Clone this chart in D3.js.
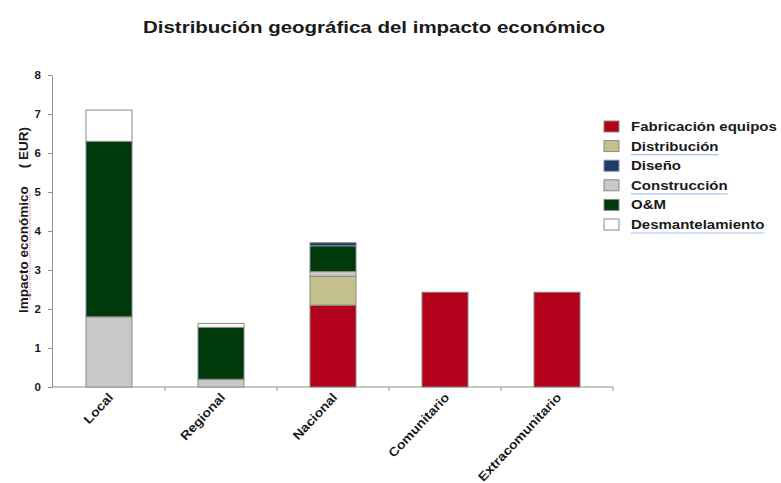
<!DOCTYPE html>
<html>
<head>
<meta charset="utf-8">
<script src="https://cdn.jsdelivr.net/npm/d3@7"></script>
<style>
  body { margin: 0; background: #fff; }
  text { font-family: "Liberation Sans", Arial, sans-serif; font-weight: bold; fill: #1a1a1a; }
</style>
</head>
<body>
<script>
const CATEGORIES = ["Local", "Regional", "Nacional", "Comunitario", "Extracomunitario"];
const SERIES = ["Fabricación equipos", "Distribución", "Diseño", "Construcción", "O&M", "Desmantelamiento"];
const FABRICACION = [0, 0, 2.1, 2.43, 2.43];
const DISTRIBUCION = [0, 0, 0.74, 0, 0];
const CONSTRUCCION = [1.8, 0.2, 0.12, 0, 0];
const OM = [4.5, 1.33, 0.66, 0, 0];
const DISENO = [0, 0, 0.08, 0, 0];
const DESMANTELAMIENTO = [0.8, 0.1, 0, 0, 0];
const Y_TICKS = [0, 1, 2, 3, 4, 5, 6, 7, 8];

// stacking order, bottom to top
const STACK_ORDER = ["Fabricación equipos", "Distribución", "Construcción", "O&M", "Diseño", "Desmantelamiento"];
const VALUES = {
  "Fabricación equipos": FABRICACION,
  "Distribución": DISTRIBUCION,
  "Diseño": DISENO,
  "Construcción": CONSTRUCCION,
  "O&M": OM,
  "Desmantelamiento": DESMANTELAMIENTO
};
const COLORS = {
  "Fabricación equipos": "#b3001b",
  "Distribución": "#c4c08c",
  "Diseño": "#1d3b6b",
  "Construcción": "#c8c8c8",
  "O&M": "#013a0a",
  "Desmantelamiento": "#ffffff"
};

const width = 781, height = 483;
const svg = d3.select("body").append("svg").attr("width", width).attr("height", height);

// the source picture is stretched horizontally
svg.append("text")
  .attr("x", 143).attr("y", 33)
  .attr("textLength", 462)
  .attr("lengthAdjust", "spacingAndGlyphs")
  .style("font-size", "17px")
  .text("Distribución geográfica del impacto económico");

const table = CATEGORIES.map((c, i) => {
  const row = { cat: c };
  SERIES.forEach(s => (row[s] = VALUES[s][i]));
  return row;
});
const stacked = d3.stack().keys(STACK_ORDER)(table);

const x = d3.scaleBand().domain(CATEGORIES).range([53, 613]);
const y = d3.scaleLinear().domain([0, 8]).range([387, 75]);
const barW = 46;

const axisColor = "#7f9f7f";

const yAxis = svg.append("g")
  .attr("transform", "translate(52,0)")
  .call(d3.axisLeft(y).tickValues(Y_TICKS).tickSize(4).tickSizeOuter(0).tickPadding(7));
yAxis.select(".domain").attr("stroke", axisColor);
yAxis.selectAll(".tick line").attr("stroke", axisColor);
yAxis.selectAll(".tick text").style("font-size", "11.5px").attr("fill", "#1a1a1a");

const xAxis = svg.append("g")
  .attr("transform", "translate(0,387)")
  .call(d3.axisBottom(x).tickSize(0).tickSizeOuter(0).tickFormat(""));
xAxis.select(".domain").attr("stroke", axisColor).attr("d", "M52,0H613");
xAxis.selectAll(".tick").remove();
// separators between categories
xAxis.selectAll("line.sep")
  .data(CATEGORIES)
  .enter().append("line")
  .attr("x1", (d, i) => x(d) + x.step())
  .attr("x2", (d, i) => x(d) + x.step())
  .attr("y1", 0).attr("y2", 4)
  .attr("stroke", axisColor);

svg.append("g").selectAll("g")
  .data(stacked)
  .enter().append("g")
  .attr("fill", d => COLORS[d.key])
  .selectAll("rect")
  .data(d => d.filter(p => p[1] - p[0] > 0))
  .enter().append("rect")
  .attr("x", d => x(d.data.cat) + x.bandwidth() / 2 - barW / 2)
  .attr("y", d => y(d[1]))
  .attr("width", barW)
  .attr("height", d => y(d[0]) - y(d[1]))
  .attr("stroke", "#8a8a8a")
  .attr("stroke-width", 1);

svg.append("g").selectAll("text")
  .data(CATEGORIES)
  .enter().append("text")
  .attr("transform", d => `translate(${x(d) + x.bandwidth() / 2 + 5},${398}) rotate(-47) scale(1.12,1)`)
  .attr("text-anchor", "end")
  .style("font-size", "12.5px")
  .text(d => d);

// y axis title
svg.append("text")
  .attr("transform", "translate(28,313) rotate(-90)")
  .style("font-size", "13.5px")
  .text("Impacto económico");
svg.append("text")
  .attr("transform", "translate(28,127) rotate(-90)")
  .attr("text-anchor", "end")
  .style("font-size", "13.5px")
  .text("( EUR)");
svg.append("line")
  .attr("x1", 30).attr("x2", 30)
  .attr("y1", 300).attr("y2", 192)
  .attr("stroke", "#e07070").attr("stroke-width", 1).attr("stroke-dasharray", "1,1");

// legend
const legend = svg.append("g").attr("transform", "translate(604,121)");
const rows = legend.selectAll("g").data(SERIES).enter().append("g")
  .attr("transform", (d, i) => `translate(0,${i * 19.6})`);
rows.append("rect")
  .attr("width", 15).attr("height", 11)
  .attr("fill", d => COLORS[d])
  .attr("stroke", "#8a8a8a");
rows.append("text")
  .attr("transform", "translate(27,10) scale(1.25,1)")
  .style("font-size", "12px")
  .text(d => d);
rows.filter(d => ["Distribución", "Construcción", "Desmantelamiento"].includes(d))
  .append("line")
  .attr("x1", 27).attr("y1", 14)
  .attr("x2", function () { return 27 + 1.25 * this.parentNode.querySelector("text").getComputedTextLength(); })
  .attr("y2", 14)
  .attr("stroke", "#a8c0f0").attr("stroke-width", 1.2);
</script>
</body>
</html>
